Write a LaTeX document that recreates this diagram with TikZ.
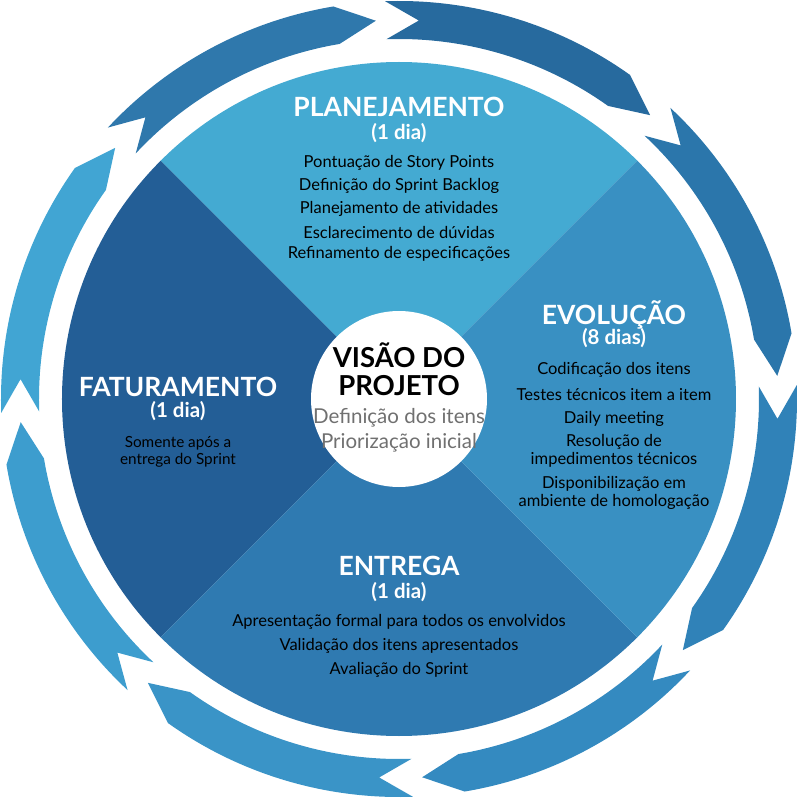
\documentclass[tikz,border=0pt]{standalone}
\usepackage{fontspec}
\setmainfont{Lato}
\usepackage{xcolor}
\definecolor{secTop}{HTML}{44AAD2}
\definecolor{secRight}{HTML}{3990C2}
\definecolor{secBottom}{HTML}{2F7AB1}
\definecolor{secLeft}{HTML}{235E96}
\definecolor{subGray}{HTML}{707070}
\tikzset{
  title/.style={text=white, font=\fontsize{26.5}{29}\selectfont\bfseries, inner sep=0pt},
  days/.style={text=white, font=\fontsize{20.5}{23}\selectfont\bfseries, inner sep=0pt},
  item/.style={text=black, font=\fontsize{16.5}{17.5}\selectfont, align=center, inner sep=0pt}
}
\begin{document}
\begin{tikzpicture}[x=1pt,y=1pt]
			\useasboundingbox (-399,-399) rectangle (399,399);
			
			% Outer ring of arrows
			\foreach \k/\col in {0/276A9E,1/2B76AB,2/3082B8,3/348AC0,4/3A94C7,5/3D9DCE,6/41A5D3,7/2F78AC}{
				\pgfmathsetmacro{\a}{92-45*\k}
				\definecolor{arrcol}{HTML}{\col}
				\fill[arrcol] (\a:398) arc[start angle=\a, end angle=\a-37.5, radius=398]
				  -- (\a-43.5:379) -- (\a-37.5:360)
				  arc[start angle=\a-37.5, end angle=\a, radius=360]
				  -- (\a-5:379) -- cycle;
			}
			
			% Quadrants
			\fill[secTop] (0,0) -- (45:337) arc[start angle=45, end angle=135, radius=337] -- cycle;
			\fill[secLeft] (0,0) -- (135:337) arc[start angle=135, end angle=225, radius=337] -- cycle;
			\fill[secBottom] (0,0) -- (225:337) arc[start angle=225, end angle=315, radius=337] -- cycle;
			\fill[secRight] (0,0) -- (315:337) arc[start angle=315, end angle=405, radius=337] -- cycle;
			
			% Center circle
			\fill[white] (0,0) circle (88);
			\node[font=\fontsize{27.5}{30}\selectfont\bfseries, inner sep=0pt] (vis1) at (0,44) {VISÃO DO};
			\node[font=\fontsize{27.5}{30}\selectfont\bfseries, inner sep=0pt] (vis2) at (0,13) {PROJETO};
			\node[text=subGray, font=\fontsize{20.5}{23}\selectfont, inner sep=0pt] (vis3) at (0,-19) {Definição dos itens};
			\node[text=subGray, font=\fontsize{20.5}{23}\selectfont, inner sep=0pt] (vis4) at (0,-44) {Priorização inicial};
			
			% Planejamento
			\node[title] (plan) at (0,292) {PLANEJAMENTO};
			\node[days] (planD) at (0,266) {(1 dia)};
			\node[item] (plan1) at (0,236) {Pontuação de Story Points};
			\node[item] (plan2) at (0,213) {Definição do Sprint Backlog};
			\node[item] (plan3) at (0,190) {Planejamento de atividades};
			\node[item] (plan4) at (0,167) {Esclarecimento de dúvidas};
			\node[item] (plan5) at (0,145) {Refinamento de especificações};
			
			% Evolucao
			\node[title] (evo) at (215,84) {EVOLUÇÃO};
			\node[days] (evoD) at (215,61) {(8 dias)};
			\node[item] (evo1) at (215,29) {Codificação dos itens};
			\node[item] (evo2) at (215,4) {Testes técnicos item a item};
			\node[item] (evo3) at (215,-20) {Daily meeting};
			\node[item] (evo4) at (215,-52) {Resolução de\\impedimentos técnicos};
			\node[item] (evo5) at (215,-94) {Disponibilização em\\ambiente de homologação};
			
			% Faturamento
			\node[title] (fat) at (-221,12) {FATURAMENTO};
			\node[days] (fatD) at (-221,-12) {(1 dia)};
			\node[item, font=\fontsize{15.3}{17.5}\selectfont] (fat1) at (-221,-53) {Somente após a\\entrega do Sprint};
			
			% Entrega
			\node[title] (ent) at (0,-167) {ENTREGA};
			\node[days] (entD) at (0,-193) {(1 dia)};
			\node[item] (ent1) at (0,-223) {Apresentação formal para todos os envolvidos};
			\node[item] (ent2) at (0,-247) {Validação dos itens apresentados};
			\node[item] (ent3) at (0,-271) {Avaliação do Sprint};
			
		\end{tikzpicture}
\end{document}
